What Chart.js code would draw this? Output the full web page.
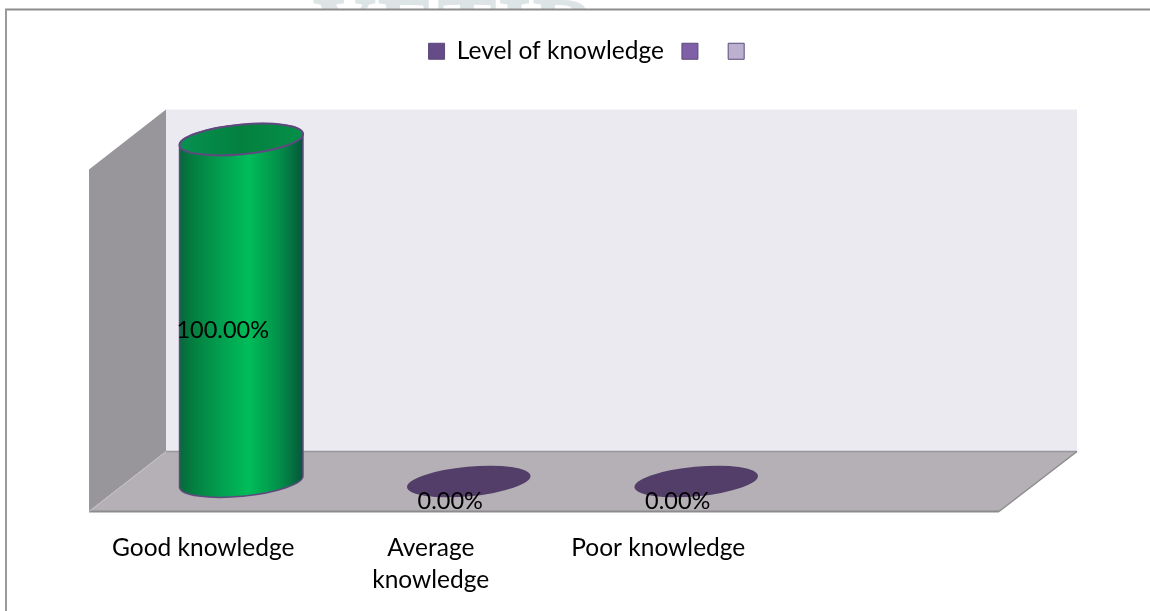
<!DOCTYPE html>
<html>
<head>
<meta charset="utf-8">
<style>
  html, body { margin: 0; padding: 0; background: #fff; }
  canvas { display: block; }
</style>
<script src="https://cdn.jsdelivr.net/npm/chart.js@4"></script>
</head>
<body>
<canvas id="chartKnowledge" width="1150" height="611"></canvas>
<script>
const categories = ["Good knowledge", ["Average", "knowledge"], "Poor knowledge", ""];
const knowledgeValues = [100, 0, 0, null];
const seriesNames = ["Level of knowledge", "", ""];

// half of the 3D depth, the walls are built around the chart area with it
const depthX = 38.5;
const depthY = 30;

function drawPoly(ctx, pts, fill) {
  ctx.beginPath();
  pts.forEach((p, i) => (i ? ctx.lineTo(p[0], p[1]) : ctx.moveTo(p[0], p[1])));
  ctx.closePath();
  ctx.fillStyle = fill;
  ctx.fill();
}

function drawLine(ctx, x1, y1, x2, y2, color, width) {
  ctx.beginPath();
  ctx.moveTo(x1, y1);
  ctx.lineTo(x2, y2);
  ctx.strokeStyle = color;
  ctx.lineWidth = width;
  ctx.stroke();
}

const walls3d = {
  id: "walls3d",
  afterLayout(chart) {
    // legend sits higher than the chart box leaves room for
    chart.legend.left += 10;
    chart.legend.right += 10;
    chart.legend.top -= 66;
    chart.legend.bottom -= 66;
  },
  beforeDraw(chart) {
    const ctx = chart.ctx;
    ctx.save();
    // watermark of the page behind the chart, only its top shows
    ctx.beginPath();
    ctx.rect(0, 0, 1150, 9);
    ctx.clip();
    ctx.fillStyle = "#dde4e6";
    ctx.font = "bold 90px 'Liberation Serif'";
    ctx.textAlign = "left";
    ctx.textBaseline = "alphabetic";
    ctx.fillText("YETIR", 312, 60);
    ctx.restore();
    drawLine(ctx, 5, 9.5, 1150, 9.5, "#8c8c8c", 2);
    drawLine(ctx, 6, 9, 6, 611, "#9a9a9a", 2);
  },
  beforeDatasetsDraw(chart) {
    const ctx = chart.ctx;
    const x = chart.scales.x;
    const y = chart.scales.y;
    const top = y.getPixelForValue(100);
    const bottom = y.getPixelForValue(0);
    const l = x.left, r = x.right;
    ctx.save();
    drawPoly(ctx, [[l + depthX, top - depthY], [r + depthX + 1, top - depthY], [r + depthX + 1, bottom - depthY], [l + depthX, bottom - depthY]], "#eceaf1");
    drawPoly(ctx, [[l - depthX, top + depthY], [l + depthX, top - depthY], [l + depthX, bottom - depthY], [l - depthX, bottom + depthY]], "#98969a");
    drawPoly(ctx, [[l - depthX, bottom + depthY], [r - depthX, bottom + depthY], [r + depthX + 1, bottom - depthY], [l + depthX, bottom - depthY]], "#b4b0b5");
    drawLine(ctx, l + depthX, bottom - depthY, r + depthX + 1, bottom - depthY, "#98969a", 1.5);
    drawLine(ctx, l - depthX, bottom + depthY, r - depthX, bottom + depthY, "#8c8c8c", 2);
    drawLine(ctx, r - depthX, bottom + depthY, r + depthX + 1, bottom - depthY, "#8c8c8c", 1.5);
    drawLine(ctx, l - depthX, bottom + depthY, l + depthX, bottom - depthY, "#c4c2c6", 1);
    ctx.restore();
  },
  beforeDatasetDraw(chart, args) {
    if (args.index !== 0) return;
    const ctx = chart.ctx;
    const rot = -5.4 * Math.PI / 180;
    ctx.save();
    args.meta.data.forEach((bar, i) => {
      if (knowledgeValues[i] === null) return;
      const a = bar.width / 2;
      const b = 14.8;
      if (knowledgeValues[i] === 0) {
        ctx.beginPath();
        ctx.ellipse(bar.x, bar.base, a, b, rot, 0, Math.PI * 2);
        ctx.fillStyle = "#523e68";
        ctx.fill();
        return;
      }
      const body = ctx.createLinearGradient(bar.x - a, 0, bar.x + a, 0);
      body.addColorStop(0, "#07683c");
      body.addColorStop(0.12, "#03803f");
      body.addColorStop(0.32, "#029d4f");
      body.addColorStop(0.56, "#00bd59");
      body.addColorStop(0.8, "#02914a");
      body.addColorStop(1, "#06563a");
      ctx.beginPath();
      ctx.ellipse(bar.x, bar.base, a, b, rot, 0, Math.PI);
      ctx.ellipse(bar.x, bar.y, a, b, rot, Math.PI, Math.PI * 2);
      ctx.closePath();
      ctx.fillStyle = body;
      ctx.fill();
      ctx.strokeStyle = "#5f4a80";
      ctx.lineWidth = 1.5;
      ctx.stroke();
      const cap = ctx.createLinearGradient(bar.x - a, 0, bar.x + a, 0);
      cap.addColorStop(0, "#069150");
      cap.addColorStop(0.5, "#03803e");
      cap.addColorStop(1, "#059048");
      ctx.beginPath();
      ctx.ellipse(bar.x, bar.y, a, b, rot, 0, Math.PI * 2);
      ctx.fillStyle = cap;
      ctx.fill();
      ctx.strokeStyle = "#5f4a80";
      ctx.lineWidth = 2;
      ctx.stroke();
    });
    ctx.restore();
    return false;
  },
  afterDatasetsDraw(chart) {
    const ctx = chart.ctx;
    const meta = chart.getDatasetMeta(0);
    ctx.save();
    ctx.font = "23.5px Lato";
    ctx.fillStyle = "#000";
    ctx.textAlign = "center";
    ctx.textBaseline = "middle";
    meta.data.forEach((bar, i) => {
      if (knowledgeValues[i] === null) return;
      const mid = (bar.y + bar.base) / 2;
      ctx.fillText(knowledgeValues[i].toFixed(2) + "%", bar.x - 18.5, mid + 20);
    });
    ctx.restore();
  }
};

const data = {
  labels: categories,
  datasets: [
    { label: seriesNames[0], data: knowledgeValues, backgroundColor: "#654b87", borderColor: "#5b4a7a", borderWidth: 1 },
    { label: seriesNames[1], data: [], backgroundColor: "#7f60a8", borderColor: "#5b4a7a", borderWidth: 1 },
    { label: seriesNames[2], data: [], backgroundColor: "#bcb0cf", borderColor: "#5b4a7a", borderWidth: 1 }
  ]
};

const chartKnowledge = new Chart(document.getElementById("chartKnowledge"), {
  type: "bar",
  data,
  plugins: [walls3d],
  options: {
    responsive: false,
    animation: false,
    barThickness: 124,
    layout: { padding: { left: 127.5, right: 112.5, top: 87, bottom: 11.5 } },
    plugins: {
      tooltip: { enabled: false },
      legend: {
        position: "top",
        labels: { boxWidth: 16, boxHeight: 16, padding: 18, color: "#000", font: { family: "Lato", size: 24.5 } }
      }
    },
    scales: {
      x: {
        stacked: true,
        border: { display: false },
        grid: { display: false },
        afterFit(scale) { scale.height = 118; },
        ticks: {
          autoSkip: false,
          maxRotation: 0,
          labelOffset: -38,
          padding: 42,
          color: "#000",
          font: { family: "Lato", size: 24.5, lineHeight: 1.32 }
        }
      },
      y: { display: false, stacked: true, min: 0, max: 100 }
    }
  }
});
</script>
</body>
</html>
